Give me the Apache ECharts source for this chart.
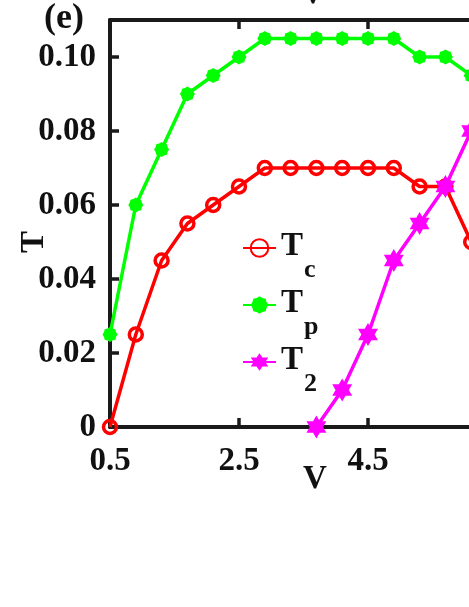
<!DOCTYPE html>
<html>
<head>
<meta charset="utf-8">
<script src="https://cdn.jsdelivr.net/npm/echarts@6/dist/echarts.min.js"></script>
<style>
html,body{margin:0;padding:0;background:#fff;}
#chart{width:469px;height:607px;}
</style>
</head>
<body>
<div id="chart"></div>
<script>
// ---- data ----
const V = [0.5, 0.9, 1.3, 1.7, 2.1, 2.5, 2.9, 3.3, 3.7, 4.1, 4.5, 4.9, 5.3, 5.7, 6.1];
const Tc = [0, 0.025, 0.045, 0.055, 0.06, 0.065, 0.07, 0.07, 0.07, 0.07, 0.07, 0.07, 0.065, 0.065, 0.05];
const Tp = [0.025, 0.06, 0.075, 0.09, 0.095, 0.10, 0.105, 0.105, 0.105, 0.105, 0.105, 0.105, 0.10, 0.10, 0.095];
const T2 = [null, null, null, null, null, null, null, null, 0, 0.01, 0.025, 0.045, 0.055, 0.065, 0.08];
const xTicks = [0.5, 2.5, 4.5];
const yTicks = [0, 0.02, 0.04, 0.06, 0.08, 0.10];

const FONT = '"Liberation Serif","Times New Roman",serif';
const AX = '#1a1a1a';

// marker shapes
const hexagram = 'path://M0,-10L2.887,-5L8.66,-5L5.774,0L8.66,5L2.887,5L0,10L-2.887,5L-8.66,5L-5.774,0L-8.66,-5L-2.887,-5Z';
let bumpy = 'path://';
for (let i = 0; i < 16; i++) {
  const a = i * Math.PI / 8;
  const r = (i % 2 === 0) ? 10 : 8.6;
  bumpy += (i === 0 ? 'M' : 'L') + (r * Math.sin(a)).toFixed(3) + ',' + (-r * Math.cos(a)).toFixed(3);
}
bumpy += 'Z';

const pair = (ys) => V.map((x, i) => [x, ys[i]]);

const chart = echarts.init(document.getElementById('chart'), null, {renderer: 'canvas'});
const axisCommon = {
  type: 'value', min: 0.5, max: 8.5, interval: 2, gridIndex: 0,
  splitLine: {show: false},
  axisLine: {show: true, onZero: false, lineStyle: {color: AX, width: 4}},
  axisTick: {show: true, inside: true, length: 9, lineStyle: {color: AX, width: 3.5}}
};
chart.setOption({
  animation: false,
  backgroundColor: '#fff',
  grid: {left: 110, top: 20, width: 516, height: 407, containLabel: false, outerBoundsMode: 'none'},
  xAxis: [
    Object.assign({}, axisCommon, {
      position: 'bottom',
      axisLabel: {
        margin: 18, color: '#111', fontFamily: FONT, fontWeight: 'bold', fontSize: 33,
        formatter: v => (xTicks.some(t => Math.abs(t - v) < 1e-9) ? v.toFixed(1) : '')
      }
    }),
    Object.assign({}, axisCommon, {
      position: 'top', axisLabel: {show: false}
    })
  ],
  yAxis: {
    type: 'value', min: 0, max: 0.11, interval: 0.02,
    splitLine: {show: false},
    axisLine: {show: true, lineStyle: {color: AX, width: 4}},
    axisTick: {show: true, inside: true, length: 9, lineStyle: {color: AX, width: 3.5}},
    axisLabel: {
      margin: 14, color: '#111', fontFamily: FONT, fontWeight: 'bold', fontSize: 33,
      showMaxLabel: false,
      formatter: v => {
        const t = yTicks.find(t => Math.abs(t - v) < 1e-9);
        if (t === undefined) return '';
        return t === 0 ? '0' : t.toFixed(2);
      }
    }
  },
  legend: {
    orient: 'vertical', left: 242, top: 230, padding: 0, z: 10,
    itemWidth: 33, itemHeight: 22, itemGap: 4,
    data: ['Tc', 'Tp', 'T2'],
    formatter: name => '{T|T}{s|' + name.slice(1) + '}',
    textStyle: {
      rich: {
        T: {fontFamily: FONT, fontWeight: 'bold', fontSize: 33, lineHeight: 36, color: '#111', verticalAlign: 'top'},
        s: {fontFamily: FONT, fontWeight: 'bold', fontSize: 26, lineHeight: 26, color: '#111', verticalAlign: 'top', padding: [27, 0, 0, 1]}
      }
    }
  },
  series: [
    {
      name: 'Tc', type: 'line', data: pair(Tc),
      symbol: 'circle', symbolSize: 13,
      lineStyle: {color: '#ff0000', width: 3.5},
      itemStyle: {color: 'rgba(0,0,0,0)', borderColor: '#ff0000', borderWidth: 3.5},
      z: 3
    },
    {
      name: 'Tp', type: 'line', data: pair(Tp),
      symbol: bumpy, symbolSize: 15,
      lineStyle: {color: '#00ff00', width: 3.5},
      itemStyle: {color: '#00ff00', borderWidth: 0},
      z: 2
    },
    {
      name: 'T2', type: 'line', data: pair(T2),
      symbol: hexagram, symbolSize: 23, symbolKeepAspect: true,
      lineStyle: {color: '#ff00ff', width: 3.5},
      itemStyle: {color: '#ff00ff', borderWidth: 0},
      z: 4
    }
  ],
  graphic: [
    {type: 'text', left: 44, top: 1, style: {text: '(e)', font: 'bold 36px ' + FONT, fill: '#111'}},
    {type: 'text', x: 315, y: 479, style: {text: 'V', font: 'bold 33px ' + FONT, fill: '#111', align: 'center', verticalAlign: 'middle'}},
    {type: 'text', x: 313, y: 11, style: {text: 'V', font: 'bold 33px ' + FONT, fill: '#111', align: 'center', verticalAlign: 'bottom'}},
    {type: 'text', x: 34, y: 242, rotation: Math.PI / 2, style: {text: 'T', font: 'bold 33px ' + FONT, fill: '#111', align: 'center', verticalAlign: 'middle'}}
  ]
});
</script>
</body>
</html>
